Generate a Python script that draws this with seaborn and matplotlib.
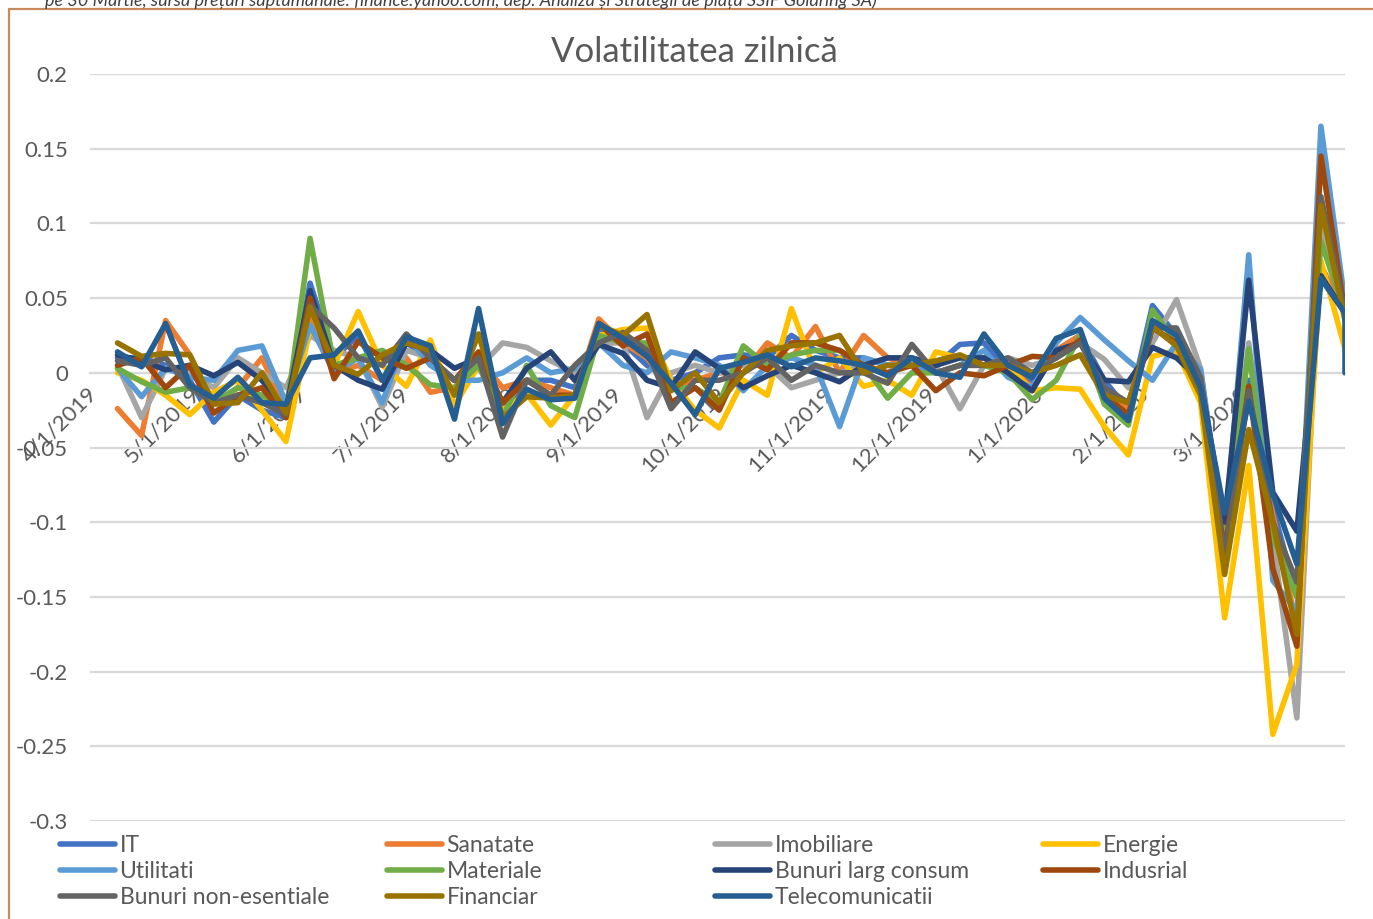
import pandas as pd
import matplotlib
matplotlib.use("Agg")
import matplotlib.pyplot as plt
from matplotlib.ticker import FuncFormatter, MultipleLocator
from matplotlib.lines import Line2D
from matplotlib.patches import Rectangle
import seaborn as sns

# weekly dates (Mondays), last one 30 March 2020
dates = pd.date_range("2019-04-08", "2020-03-30", freq="7D")

it = [0.010, 0.010, 0.005, -0.005, -0.033, -0.015, -0.025, -0.030, 0.060, 0.010,
      0.025, -0.005, 0.020, 0.010, -0.005, 0.005, -0.025, -0.005, -0.005, -0.010,
      0.030, 0.020, 0.005, -0.005, 0.000, 0.010, 0.012, 0.010, 0.025, 0.015,
      0.010, 0.010, 0.005, 0.005, 0.005, 0.019, 0.020, 0.000, -0.005, 0.015,
      0.025, -0.005, -0.025, 0.045, 0.025, -0.015, -0.110, -0.005, -0.090, -0.150,
      0.100, 0.040]
sanatate = [-0.024, -0.042, 0.035, 0.012, -0.020, -0.010, 0.010, -0.025, 0.040, 0.000,
            0.005, -0.005, 0.010, -0.013, -0.010, 0.010, -0.010, -0.005, -0.010, -0.015,
            0.036, 0.020, 0.010, -0.010, -0.005, 0.000, 0.000, 0.020, 0.010, 0.031,
            0.000, 0.025, 0.010, 0.005, 0.000, 0.005, 0.010, 0.005, -0.010, 0.015,
            0.025, -0.010, -0.025, 0.030, 0.020, -0.010, -0.120, -0.010, -0.095, -0.170,
            0.072, 0.040]
imobiliare = [0.005, -0.030, 0.003, 0.000, -0.010, 0.010, 0.000, -0.010, 0.025, 0.015,
              0.010, -0.023, 0.015, 0.010, -0.005, 0.003, 0.020, 0.017, 0.008, 0.000,
              0.020, 0.020, -0.030, 0.000, 0.005, 0.000, 0.005, 0.005, -0.010, -0.005,
              0.000, 0.005, 0.000, 0.010, 0.005, -0.024, 0.005, 0.010, 0.005, 0.010,
              0.020, 0.009, -0.010, 0.020, 0.049, 0.003, -0.115, 0.020, -0.110, -0.231,
              0.100, 0.040]
energie = [0.000, -0.005, -0.015, -0.028, -0.013, -0.005, -0.025, -0.046, 0.030, 0.005,
           0.041, 0.005, -0.009, 0.022, -0.022, 0.005, -0.025, -0.014, -0.035, -0.015,
           0.025, 0.029, 0.030, -0.005, -0.025, -0.037, -0.005, -0.015, 0.043, 0.000,
           0.010, -0.009, -0.005, -0.015, 0.014, 0.010, 0.005, 0.005, -0.012, -0.010,
           -0.011, -0.036, -0.055, 0.011, 0.015, -0.020, -0.164, -0.062, -0.242, -0.195,
           0.075, 0.016]
utilitati = [0.003, -0.016, 0.003, -0.003, -0.005, 0.015, 0.018, -0.020, 0.032, 0.000,
             0.010, -0.020, 0.025, 0.005, -0.005, -0.005, 0.000, 0.010, 0.000, 0.003,
             0.020, 0.005, 0.000, 0.014, 0.010, 0.005, -0.012, 0.005, 0.010, 0.005,
             -0.036, 0.010, 0.005, 0.005, 0.000, 0.005, 0.015, -0.003, -0.010, 0.020,
             0.037, 0.022, 0.008, -0.005, 0.020, 0.002, -0.110, 0.079, -0.139, -0.160,
             0.165, 0.047]
materiale = [0.003, -0.006, -0.013, -0.010, -0.020, -0.010, -0.015, -0.028, 0.090, 0.005,
             0.010, 0.015, 0.005, -0.008, -0.010, 0.005, -0.030, 0.005, -0.022, -0.030,
             0.025, 0.020, 0.020, -0.010, -0.010, -0.020, 0.018, 0.005, 0.012, 0.015,
             0.015, 0.005, -0.017, 0.000, 0.000, 0.005, 0.005, 0.000, -0.018, -0.005,
             0.025, -0.021, -0.035, 0.042, 0.020, -0.010, -0.115, 0.016, -0.110, -0.150,
             0.088, 0.040]
larg_consum = [0.012, 0.008, 0.002, 0.005, -0.002, 0.007, -0.005, -0.025, 0.055, 0.005,
               -0.005, -0.011, 0.020, 0.015, 0.003, 0.010, -0.020, 0.003, 0.014, -0.005,
               0.019, 0.013, -0.005, -0.010, 0.014, 0.003, -0.010, -0.002, 0.005, 0.000,
               -0.006, 0.005, 0.010, 0.010, 0.005, 0.010, 0.010, 0.000, -0.012, 0.015,
               0.020, -0.005, -0.006, 0.017, 0.010, -0.005, -0.100, 0.062, -0.080, -0.106,
               0.065, 0.040]
indusrial = [0.005, 0.010, -0.010, 0.005, -0.027, -0.015, -0.010, -0.030, 0.050, -0.004,
             0.021, 0.010, 0.003, 0.010, -0.005, 0.014, -0.020, -0.005, -0.015, -0.015,
             0.033, 0.018, 0.026, -0.020, -0.010, -0.025, 0.010, 0.002, 0.020, 0.020,
             0.015, 0.005, 0.000, 0.005, -0.012, 0.000, -0.002, 0.005, 0.011, 0.010,
             0.022, -0.015, -0.028, 0.030, 0.020, -0.010, -0.120, -0.009, -0.131, -0.183,
             0.145, 0.040]
non_esentiale = [0.008, 0.005, 0.010, -0.010, -0.020, -0.015, -0.020, -0.028, 0.045, 0.030,
                 0.010, 0.005, 0.026, 0.010, -0.005, 0.010, -0.043, -0.005, -0.015, 0.005,
                 0.020, 0.027, 0.015, -0.024, -0.005, -0.005, 0.000, 0.010, -0.005, 0.005,
                 0.000, 0.000, -0.007, 0.019, 0.000, 0.005, 0.005, 0.010, 0.000, 0.010,
                 0.020, -0.010, -0.020, 0.030, 0.030, -0.003, -0.125, -0.012, -0.100, -0.140,
                 0.118, 0.040]
financiar = [0.020, 0.011, 0.013, 0.012, -0.021, -0.020, 0.000, -0.027, 0.044, 0.005,
             -0.001, 0.012, 0.020, 0.015, -0.015, 0.026, -0.030, -0.016, -0.017, -0.015,
             0.032, 0.025, 0.039, -0.012, 0.000, -0.020, 0.000, 0.015, 0.018, 0.020,
             0.025, 0.000, 0.005, 0.005, 0.008, 0.012, 0.005, 0.005, 0.000, 0.005,
             0.012, -0.015, -0.020, 0.031, 0.018, -0.015, -0.135, -0.038, -0.100, -0.175,
             0.112, 0.035]
telecom = [0.014, 0.004, 0.033, -0.008, -0.017, -0.003, -0.020, -0.021, 0.010, 0.012,
           0.028, -0.005, 0.024, 0.018, -0.031, 0.043, -0.034, -0.011, -0.018, -0.017,
           0.033, 0.023, 0.011, -0.007, -0.028, 0.003, 0.007, 0.012, 0.004, 0.010,
           0.008, 0.005, -0.002, 0.010, 0.000, -0.003, 0.026, 0.005, -0.003, 0.023,
           0.029, -0.017, -0.032, 0.035, 0.025, -0.010, -0.094, -0.019, -0.081, -0.128,
           0.063, 0.040]
telecom_last = 0.0  # final row of the sheet, drawn as a drop to 0 on 30 March

sectors = {
    "IT": it,
    "Sanatate": sanatate,
    "Imobiliare": imobiliare,
    "Energie": energie,
    "Utilitati": utilitati,
    "Materiale": materiale,
    "Bunuri larg consum": larg_consum,
    "Indusrial": indusrial,
    "Bunuri non-esentiale": non_esentiale,
    "Financiar": financiar,
    "Telecomunicatii": telecom,
}

colors = {
    "IT": "#4472C4",
    "Sanatate": "#ED7D31",
    "Imobiliare": "#A5A5A5",
    "Energie": "#FFC000",
    "Utilitati": "#5B9BD5",
    "Materiale": "#70AD47",
    "Bunuri larg consum": "#264478",
    "Indusrial": "#9E480E",
    "Bunuri non-esentiale": "#636363",
    "Financiar": "#997300",
    "Telecomunicatii": "#255E91",
}

frames = []
for name, vals in sectors.items():
    frames.append(pd.DataFrame({"Data": dates, "Volatilitate": vals, "Sector": name}))
frames.append(pd.DataFrame({"Data": [dates[-1]], "Volatilitate": [telecom_last],
                            "Sector": ["Telecomunicatii"]}))
df = pd.concat(frames, ignore_index=True)

sns.set_style("white")
plt.rcParams["font.family"] = ["Lato", "DejaVu Sans"]
plt.rcParams["axes.unicode_minus"] = False

text_color = "#595959"
grid_color = "#D9D9D9"
lw = 4.0

fig = plt.figure(figsize=(13.73, 9.19), dpi=100)
ax = fig.add_axes([90 / 1373, 1 - 821 / 919, (1345 - 90) / 1373, (821 - 74) / 919])

sns.lineplot(data=df, x="Data", y="Volatilitate", hue="Sector",
             hue_order=list(sectors.keys()), palette=colors,
             estimator=None, sort=False, linewidth=lw, legend=False,
             solid_joinstyle="round", solid_capstyle="round", ax=ax)

ax.set_ylim(-0.3, 0.2)
ax.set_xlim(pd.Timestamp("2019-03-31"), pd.Timestamp("2020-03-30"))
ax.yaxis.set_major_locator(MultipleLocator(0.05))
ax.yaxis.set_major_formatter(FuncFormatter(lambda v, p: "%g" % round(v, 3)))
ax.grid(axis="y", color=grid_color, linewidth=1.6)
ax.set_axisbelow(True)
ax.set_xlabel("")
ax.set_ylabel("")

for side in ["left", "right", "top"]:
    ax.spines[side].set_visible(False)
ax.spines["bottom"].set_position(("data", 0))
ax.spines["bottom"].set_color(grid_color)
ax.spines["bottom"].set_linewidth(1.6)
ax.spines["bottom"].set_zorder(0)
ax.tick_params(axis="x", colors=grid_color, labelcolor=text_color, labelsize=16,
               length=5, width=1.2, pad=8, labelrotation=45)
ax.tick_params(axis="y", labelcolor=text_color, labelsize=16, length=0, pad=16)

month_ticks = pd.date_range("2019-04-01", "2020-03-01", freq="MS")
ax.set_xticks(month_ticks)
ax.set_xticklabels([f"{d.month}/{d.day}/{d.year}" for d in month_ticks])
plt.setp(ax.get_xticklabels(), rotation=45, ha="right", va="center",
         rotation_mode="anchor")

fig.text(694 / 1373, 1 - 52 / 919, "Volatilitatea zilnică", ha="center", va="center",
         fontsize=25, color=text_color)

# caption cut off by the top edge of the screenshot
fig.text(45 / 1373, 1 - 6 / 919,
         "pe 30 Martie, sursa prețuri săptămânale: finance.yahoo.com, "
         "dep. Analiză și Strategii de piață SSIF Goldring SA)",
         ha="left", va="baseline", fontsize=13, style="italic", color="#404040")

# orange frame of the chart object
fig.patches.append(Rectangle((9 / 1373, -0.05), 1.1, 1 - 9 / 919 + 0.05,
                             transform=fig.transFigure, fill=False,
                             edgecolor="#C98B5E", linewidth=1.6))

# legend: Excel lays it out row by row in fixed columns
columns = [
    (60, ["IT", "Utilitati", "Bunuri non-esentiale"]),
    (387, ["Sanatate", "Materiale", "Financiar"]),
    (715, ["Imobiliare", "Bunuri larg consum", "Telecomunicatii"]),
    (1043, ["Energie", "Indusrial"]),
]
for x0, names in columns:
    handles = [Line2D([], [], color=colors[n], linewidth=lw, solid_capstyle="round")
               for n in names]
    fig.legend(handles, names, loc="upper left",
               bbox_to_anchor=(x0 / 1373, 1 - 835 / 919), frameon=False,
               fontsize=16.5, labelcolor=text_color, handlelength=2.4,
               handletextpad=0.2, labelspacing=0.22, borderpad=0, borderaxespad=0)

fig.savefig("out.png", dpi=100)
